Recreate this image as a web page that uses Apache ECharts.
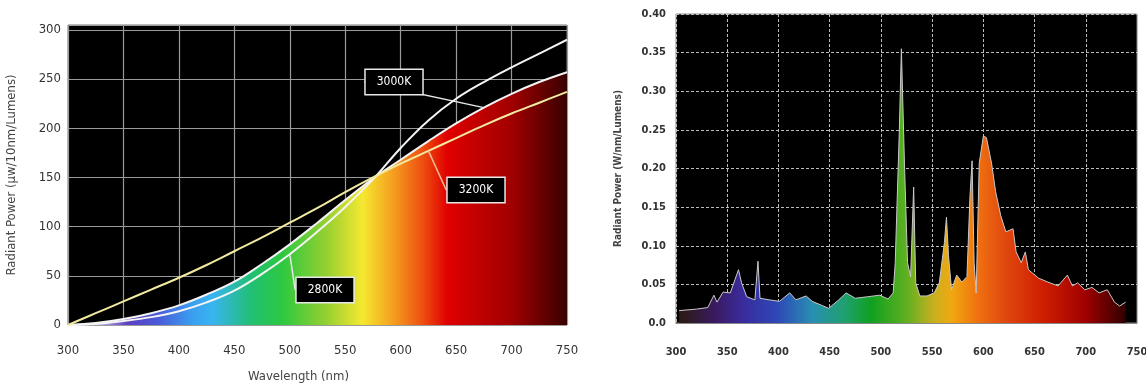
<!DOCTYPE html>
<html>
<head>
<meta charset="utf-8">
<script src="https://cdn.jsdelivr.net/npm/echarts@6/dist/echarts.min.js"></script>
<style>
  html, body { margin: 0; padding: 0; background: #fff; }
  #main { width: 1146px; height: 383px; }
</style>
</head>
<body>
<div id="main"></div>
<script>
// left chart: blackbody curves, 25 nm steps
var wavelengths = [300, 325, 350, 375, 400, 425, 450, 475, 500, 525, 550, 575, 600, 625, 650, 675, 700, 725, 750];
var k2800 = [0, 1, 4, 8, 14, 23, 35, 52, 72, 95, 120, 148, 180, 208, 230, 247, 262, 276, 290];
var k3000 = [0, 2, 6, 12, 20, 31, 44, 62, 82, 104, 127, 149, 168, 187, 205, 221, 235, 247, 257];
var k3200 = [0, 12, 24, 36, 48, 61, 75, 89, 104, 119, 135, 150, 164, 177, 190, 203, 215, 226, 237];

// right chart: measured lamp spectrum
var specWl = [303, 320, 331, 337, 340, 346, 353, 361, 364, 369, 377, 380, 382, 391, 401, 411, 417, 427, 433, 442,
  449, 459, 466, 475, 487, 499, 507, 512, 514, 518, 520, 523, 526, 529, 532, 534, 538, 545, 552, 557,
  562, 564, 566, 569, 574, 579, 584, 587, 589, 591, 593, 596, 600, 603, 608, 612, 617, 622, 629, 632,
  637, 641, 644, 654, 663, 673, 682, 687, 692, 699, 706, 713, 721, 728, 733, 739];
var specPower = [0.016, 0.018, 0.020, 0.036, 0.027, 0.040, 0.039, 0.069, 0.052, 0.034, 0.030, 0.080, 0.032, 0.030, 0.028, 0.039, 0.030, 0.035, 0.028, 0.023,
  0.019, 0.030, 0.039, 0.032, 0.034, 0.036, 0.031, 0.039, 0.078, 0.250, 0.355, 0.207, 0.078, 0.060, 0.176, 0.052, 0.035, 0.035, 0.039, 0.052,
  0.104, 0.137, 0.087, 0.043, 0.062, 0.053, 0.060, 0.165, 0.210, 0.078, 0.039, 0.207, 0.242, 0.240, 0.207, 0.170, 0.139, 0.118, 0.122, 0.092,
  0.078, 0.092, 0.069, 0.058, 0.053, 0.048, 0.062, 0.048, 0.052, 0.043, 0.046, 0.039, 0.043, 0.027, 0.022, 0.027];

var FONT = "'DejaVu Sans Condensed', 'Liberation Sans Narrow', 'Liberation Sans', sans-serif";

function pairs(xs, ys, labelIdx) {
  return xs.map(function (x, i) {
    var item = { value: [x, ys[i]] };
    if (i === labelIdx) item.label = { show: true };
    return item;
  });
}

function tagLabel(text) {
  return {
    show: false,
    formatter: text,
    color: '#fff',
    fontFamily: FONT,
    fontSize: 12,
    backgroundColor: '#000',
    borderColor: '#e8e8e8',
    borderWidth: 1.5,
    padding: [6, 11]
  };
}

var leftFill = new echarts.graphic.LinearGradient(0, 0, 1, 0, [
  { offset: 0.00, color: '#f0ecff' },
  { offset: 0.07, color: '#b0a0e8' },
  { offset: 0.12, color: '#5a40c0' },
  { offset: 0.18, color: '#4a5ad8' },
  { offset: 0.25, color: '#3aa0f0' },
  { offset: 0.29, color: '#38b4f0' },
  { offset: 0.37, color: '#20c070' },
  { offset: 0.43, color: '#2ec840' },
  { offset: 0.52, color: '#98d030' },
  { offset: 0.59, color: '#f5e830' },
  { offset: 0.65, color: '#f5a020' },
  { offset: 0.71, color: '#ee5010' },
  { offset: 0.76, color: '#e00000' },
  { offset: 0.89, color: '#a00000' },
  { offset: 1.00, color: '#380000' }
]);

var rightFill = new echarts.graphic.LinearGradient(0, 0, 1, 0, [
  { offset: 0.00, color: '#2a1a10' },
  { offset: 0.08, color: '#3a1a60' },
  { offset: 0.14, color: '#3a2a9a' },
  { offset: 0.22, color: '#2e48b8' },
  { offset: 0.30, color: '#2890b0' },
  { offset: 0.37, color: '#20a070' },
  { offset: 0.43, color: '#10a020' },
  { offset: 0.51, color: '#60b020' },
  { offset: 0.57, color: '#c8b020' },
  { offset: 0.61, color: '#f0a810' },
  { offset: 0.67, color: '#f07010' },
  { offset: 0.73, color: '#e04810' },
  { offset: 0.81, color: '#d02000' },
  { offset: 0.91, color: '#a00000' },
  { offset: 1.00, color: '#300000' }
]);

var chart = echarts.init(document.getElementById('main'));

var option = {
  animation: false,
  backgroundColor: '#fff',
  grid: [
    { left: 68, right: 579, top: 25, bottom: 58, outerBoundsMode: 'none', show: true, backgroundColor: '#000', borderColor: '#777', borderWidth: 1 },
    { left: 676, right: 9, top: 14, bottom: 60, outerBoundsMode: 'none', show: true, backgroundColor: '#000', borderColor: '#888', borderWidth: 1 }
  ],
  xAxis: [
    {
      gridIndex: 0, type: 'value', min: 300, max: 750, interval: 50,
      name: 'Wavelength (nm)', nameLocation: 'middle', nameGap: 45,
      nameTextStyle: { fontFamily: FONT, fontSize: 13, color: '#444', padding: [0, 38, 0, 0] },
      axisLine: { show: false }, axisTick: { show: false },
      axisLabel: { fontFamily: FONT, fontSize: 13, color: '#333', margin: 19 },
      splitLine: { show: true, lineStyle: { color: '#9a9a9a', width: 1.2 } }
    },
    {
      gridIndex: 1, type: 'value', min: 300, max: 750, interval: 50,
      axisLine: { show: true, lineStyle: { color: '#888' } }, axisTick: { show: false },
      axisLabel: { fontFamily: FONT, fontSize: 11, fontWeight: 'bold', color: '#333', margin: 24 },
      splitLine: { show: true, lineStyle: { color: '#bbb', width: 1, type: [3, 2] } }
    }
  ],
  yAxis: [
    {
      gridIndex: 0, type: 'value', min: 0, max: 305, interval: 50,
      name: 'Radiant Power (µw/10nm/Lumens)', nameLocation: 'middle', nameGap: 50,
      nameTextStyle: { fontFamily: FONT, fontSize: 13, color: '#444' },
      axisLine: { show: false }, axisTick: { show: false },
      axisLabel: { fontFamily: FONT, fontSize: 13, color: '#333', margin: 7, showMaxLabel: false },
      splitLine: { show: true, lineStyle: { color: '#9a9a9a', width: 1.2 } }
    },
    {
      gridIndex: 1, type: 'value', min: 0, max: 0.40, interval: 0.05,
      name: 'Radiant Power (W/nm/Lumens)', nameLocation: 'middle', nameGap: 53,
      nameTextStyle: { fontFamily: FONT, fontSize: 10, fontWeight: 'bold', color: '#444' },
      axisLine: { show: false }, axisTick: { show: false },
      axisLabel: {
        fontFamily: FONT, fontSize: 11, fontWeight: 'bold', color: '#333', margin: 10,
        formatter: function (v) { return v === 0 ? '0.0' : v.toFixed(2); }
      },
      splitLine: { show: true, lineStyle: { color: '#bbb', width: 1, type: [3, 2] } }
    }
  ],
  series: [
    {
      name: '3000K', type: 'line', xAxisIndex: 0, yAxisIndex: 0,
      smooth: 0.4, showSymbol: true, symbol: 'circle', symbolSize: 0, z: 2,
      data: pairs(wavelengths, k3000, 15),
      lineStyle: { color: '#f4f4f4', width: 2 },
      areaStyle: { color: leftFill, opacity: 1 },
      label: tagLabel('3000K'),
      labelLayout: { x: 394, y: 82, align: 'center', verticalAlign: 'middle' },
      labelLine: { show: true, lineStyle: { color: '#e8e8e8', width: 1.5 } }
    },
    {
      name: '2800K', type: 'line', xAxisIndex: 0, yAxisIndex: 0,
      smooth: 0.4, showSymbol: true, symbol: 'circle', symbolSize: 0, z: 3,
      data: pairs(wavelengths, k2800, 8),
      lineStyle: { color: '#f4f4f4', width: 2 },
      label: tagLabel('2800K'),
      labelLayout: { x: 325, y: 290, align: 'center', verticalAlign: 'middle' },
      labelLine: { show: true, lineStyle: { color: '#e8e8e8', width: 1.5 } }
    },
    {
      name: '3200K', type: 'line', xAxisIndex: 0, yAxisIndex: 0,
      smooth: 0.4, showSymbol: true, symbol: 'circle', symbolSize: 0, z: 4,
      data: pairs(wavelengths, k3200, 13),
      lineStyle: { color: '#f2eaa0', width: 2 },
      label: tagLabel('3200K'),
      labelLayout: { x: 476, y: 190, align: 'center', verticalAlign: 'middle' },
      labelLine: { show: true, lineStyle: { color: '#f0c090', width: 1.5 } }
    },
    {
      name: 'spectrum', type: 'line', xAxisIndex: 1, yAxisIndex: 1,
      showSymbol: false, smooth: false,
      data: specWl.map(function (w, i) { return [w, specPower[i]]; }),
      lineStyle: { color: '#c8c8c8', width: 1 },
      areaStyle: { color: rightFill, opacity: 1 }
    }
  ]
};

chart.setOption(option);
</script>
</body>
</html>
